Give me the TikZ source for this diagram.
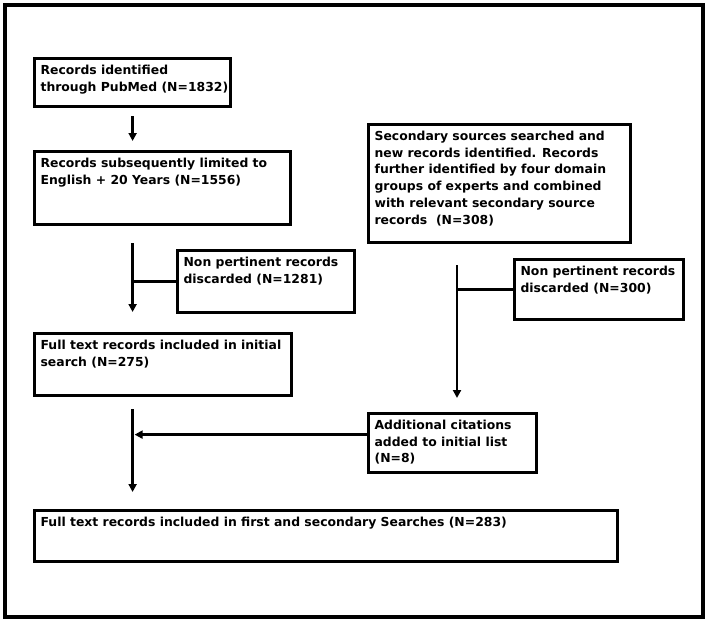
\documentclass[tikz,border=0pt]{standalone}
\usepackage{fontspec}
\setmainfont{DejaVu Sans}
\usetikzlibrary{arrows.meta}
\newcommand{\bxt}[3]{\parbox[c][#2][t]{#1}{\vspace*{-3pt}\renewcommand{\arraystretch}{1}\setlength{\tabcolsep}{0pt}\begin{tabular}[t]{@{}l@{}}#3\end{tabular}}}
\begin{document}
\begin{tikzpicture}[x=1pt,y=-1pt,
  every node/.style={font=\bfseries\fontsize{12.4}{16.8}\selectfont},
  fbox/.style={draw, line width=3.2pt, anchor=north west, inner xsep=6pt, inner ysep=7pt},
  conn/.style={line width=2.4pt},
  arr/.style={conn, -{Triangle[length=8pt,width=8pt]}}]
\useasboundingbox (0,0) rectangle (708,623);
\draw[line width=3.4pt] (5,5) rectangle (703,617);
\node[fbox] (b1) at (33,57) {\bxt{184pt}{34pt}{Records identified\\through PubMed (N=1832)}};
\node[fbox] (b2) at (33,150) {\bxt{244pt}{59pt}{Records subsequently limited to\\English + 20 Years (N=1556)}};
\node[fbox] (b3) at (176,249) {\bxt{165pt}{48pt}{Non pertinent records\\discarded (N=1281)}};
\node[fbox] (b4) at (33,332) {\bxt{245pt}{48pt}{Full text records included in initial\\search (N=275)}};
\node[fbox] (b5) at (33,509) {\bxt{571pt}{37pt}{Full text records included in first and secondary Searches (N=283)}};
\node[fbox] (b6) at (367,123) {\bxt{250pt}{104pt}{Secondary sources searched and\\new records identified. Records\\further identified by four domain\\groups of experts and combined\\with relevant secondary source\\records~~(N=308)}};
\node[fbox] (b7) at (513,258) {\bxt{157pt}{46pt}{Non pertinent records\\discarded (N=300)}};
\node[fbox] (b8) at (367,412) {\bxt{156pt}{45pt}{Additional citations\\added to initial list\\(N=8)}};
% left column
\draw[arr, shorten <=8pt, shorten >=9pt] (b1.south) -- (b1.south |- b2.north);
\coordinate (c2) at (b1.south |- b2.south);
\draw[arr, shorten <=17pt, shorten >=20pt] (c2) -- (c2 |- b4.north);
\draw[conn] (b3.west) -- (b3.west -| c2);
\coordinate (c4) at (b1.south |- b4.south);
\draw[arr, shorten <=12pt, shorten >=17pt] (c4) -- (c4 |- b5.north);
\coordinate (h8) at ([yshift=8.5pt]b8.west);
\draw[arr, shorten >=2pt] (h8) -- (h8 -| c4);
% right column
\coordinate (c6) at ([xshift=90pt]b6.south west);
\draw[arr, shorten <=21pt, shorten >=14pt] (c6) -- (c6 |- b8.north);
\draw[conn] (b7.west) -- (b7.west -| c6);
\end{tikzpicture}
\end{document}
